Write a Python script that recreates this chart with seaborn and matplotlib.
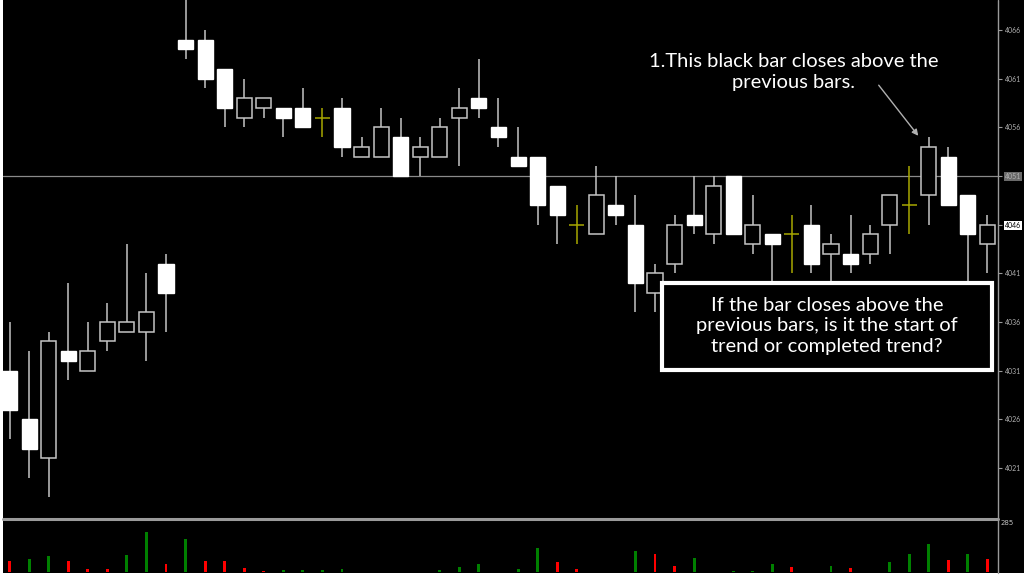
import matplotlib
matplotlib.use("Agg")
import matplotlib.pyplot as plt
from matplotlib.patches import Rectangle
from matplotlib.lines import Line2D
import seaborn as sns
import numpy as np
import pandas as pd

# bar data, one entry per bar (price, MT4 style chart)
opens = [4031, 4026, 4022, 4033, 4031, 4034, 4035, 4035, 4042, 4065,
         4065, 4062, 4057, 4058, 4058, 4058, 4057, 4058, 4053, 4053,
         4055, 4053, 4053, 4057, 4059, 4056, 4053, 4053, 4050, 4046,
         4045, 4048, 4046, 4039, 4042, 4047, 4045, 4051, 4044, 4045,
         4045, 4046, 4043, 4043, 4043, 4046, 4048, 4049, 4053, 4049,
         4044]
highs = [4036, 4033, 4035, 4040, 4036, 4038, 4044, 4041, 4043, 4071,
         4066, 4062, 4061, 4059, 4058, 4060, 4058, 4059, 4055, 4058,
         4057, 4055, 4057, 4060, 4063, 4059, 4056, 4053, 4050, 4048,
         4052, 4051, 4049, 4042, 4047, 4051, 4051, 4051, 4049, 4045,
         4047, 4048, 4045, 4047, 4046, 4049, 4052, 4055, 4054, 4049,
         4047]
lows = [4024, 4020, 4018, 4030, 4031, 4033, 4035, 4032, 4035, 4063,
        4060, 4056, 4056, 4057, 4055, 4056, 4055, 4053, 4053, 4053,
        4051, 4051, 4053, 4052, 4057, 4054, 4052, 4046, 4044, 4044,
        4045, 4046, 4037, 4037, 4041, 4045, 4044, 4045, 4043, 4040,
        4041, 4041, 4039, 4041, 4042, 4043, 4045, 4046, 4048, 4040,
        4041]
closes = [4027, 4023, 4034, 4032, 4033, 4036, 4036, 4037, 4039, 4064,
          4061, 4058, 4059, 4059, 4057, 4056, 4057, 4054, 4054, 4056,
          4051, 4054, 4056, 4058, 4058, 4055, 4052, 4048, 4047, 4046,
          4049, 4047, 4040, 4041, 4046, 4046, 4050, 4045, 4046, 4044,
          4045, 4042, 4044, 4042, 4045, 4049, 4048, 4054, 4048, 4045,
          4046]
volumes = [64, 70, 91, 64, 19, 15, 97, 222, 47, 182,
           61, 59, 23, 6, 10, 13, 13, 17, 0, 0,
           0, 0, 10, 27, 42, 0, 17, 133, 55, 19,
           0, 0, 116, 103, 34, 76, 0, 4, 4, 46,
           27, 2, 34, 25, 0, 53, 99, 156, 67, 103,
           70]
vol_dir = ["down", "up", "up", "down", "down", "down", "up", "up", "down", "up",
           "down", "down", "down", "down", "up", "up", "up", "up", "up", "up",
           "up", "up", "up", "up", "up", "up", "up", "up", "down", "down",
           "up", "up", "up", "down", "down", "up", "up", "up", "up", "up",
           "down", "down", "up", "down", "up", "up", "up", "up", "down", "up",
           "down"]
price_ticks = [4021, 4026, 4031, 4036, 4041, 4046, 4051, 4056, 4061, 4066]
bid_price = 4051
last_price = 4046
vol_max_label = 285

note_top = "1.This black bar closes above the\nprevious bars."
note_box = "If the bar closes above the\nprevious bars, is it the start of\ntrend or completed trend?"

df = pd.DataFrame({"o": opens, "h": highs, "l": lows, "c": closes,
                   "volume": volumes, "dir": vol_dir})
df["bar"] = np.arange(len(df))

sns.set_theme(style="dark")
plt.rcParams["font.family"] = ["Lato", "DejaVu Sans"]

W, H = 1024, 576
fig = plt.figure(figsize=(10.24, 5.76), dpi=100, facecolor="white")

def fx(px):
    return px / W

def fy(py):
    return 1 - py / H

# black chart background (right scale strip included)
fig.add_artist(Rectangle((fx(3), fy(573)), fx(1021), 573 / H, transform=fig.transFigure,
                         facecolor="black", edgecolor="none", zorder=0))

ax = fig.add_axes([fx(3), fy(517), fx(995), 517 / H])
ax_v = fig.add_axes([fx(3), fy(572), fx(995), 52 / H])
for a in (ax, ax_v):
    a.set_facecolor("black")
    for s in a.spines.values():
        s.set_visible(False)

wick_col = "#c4c4c4"
doji_col = "#a8a800"
body_w = 0.77

# wicks
for i, r in df.iterrows():
    col = doji_col if r.o == r.c else wick_col
    ax.vlines(i, r.l, r.h, color=col, lw=1.1, zorder=2)

bear = df[df.c < df.o]
bull = df[df.c > df.o]
doji = df[df.c == df.o]
ax.bar(bear.bar, bear.o - bear.c, bottom=bear.c, width=body_w,
       color="white", edgecolor="white", lw=1, zorder=3)
ax.bar(bull.bar, bull.c - bull.o, bottom=bull.o, width=body_w,
       color="black", edgecolor=wick_col, lw=1.1, zorder=3)
ax.hlines(doji.o, doji.bar - body_w / 2, doji.bar + body_w / 2, color=doji_col, lw=1.1, zorder=3)

ax.axhline(bid_price, color="#8a8a8a", lw=0.9, zorder=1)

x0 = (3 - 9.5) / 19.56
x1 = (998 - 9.5) / 19.56
ax.set_xlim(x0, x1)
ax.set_ylim(4066 - (517 - 30) / 9.733, 4066 + 30 / 9.733)
ax.set_xticks([])
ax.yaxis.tick_right()
ax.set_yticks(price_ticks)
ax.set_yticklabels([str(t) for t in price_ticks])
ax.tick_params(axis="y", right=True, length=3, width=0.8, color="#9a9a9a",
               labelsize=5, labelcolor="#b0b0b0", pad=2)
for lab, t in zip(ax.get_yticklabels(), price_ticks):
    if t == bid_price:
        lab.set_bbox(dict(facecolor="#6a6a6a", edgecolor="none", pad=0.8))
    elif t == last_price:
        lab.set_color("black")
        lab.set_bbox(dict(facecolor="white", edgecolor="none", pad=0.8))

# volume panel
sns.barplot(data=df, x="bar", y="volume", hue="dir", dodge=False, native_scale=True,
            palette={"up": "#008000", "down": "#ff0000"}, width=0.15, saturation=1,
            linewidth=0, legend=False, ax=ax_v, zorder=2, errorbar=None)
ax_v.set_xlim(x0, x1)
ax_v.set_ylim(0, 290)
ax_v.set_xticks([])
ax_v.set_yticks([])
ax_v.set_xlabel("")
ax_v.set_ylabel("")
fig.text(fx(1001), fy(523), str(vol_max_label), fontsize=5, color="#c0c0c0",
         va="center", ha="left", family=["DejaVu Sans"])

# panel frame lines
fig.add_artist(Line2D([fx(998), fx(998)], [fy(0), fy(573)], color="#9a9a9a", lw=1,
                      transform=fig.transFigure))
fig.add_artist(Line2D([fx(3), fx(998)], [fy(518.7), fy(518.7)], color="#9a9a9a", lw=2.2,
                      transform=fig.transFigure))

# annotations
fig.text(fx(794), fy(72), note_top, ha="center", va="center", fontsize=14.5,
         color="white", linespacing=1.25)
ax.annotate("", xy=(fx(920), fy(138)), xytext=(fx(877), fy(83)),
            xycoords="figure fraction", textcoords="figure fraction",
            arrowprops=dict(arrowstyle="-|>", color="#b0b0b0", lw=1, mutation_scale=9))

fig.add_artist(Rectangle((fx(662), fy(370)), fx(330), 87 / H, transform=fig.transFigure,
                         facecolor="black", edgecolor="white", lw=3, zorder=5))
fig.text(fx(827), fy(326), note_box, ha="center", va="center", fontsize=14.5,
         color="white", linespacing=1.25, zorder=6)

fig.savefig("out.png", dpi=100, facecolor=fig.get_facecolor())
